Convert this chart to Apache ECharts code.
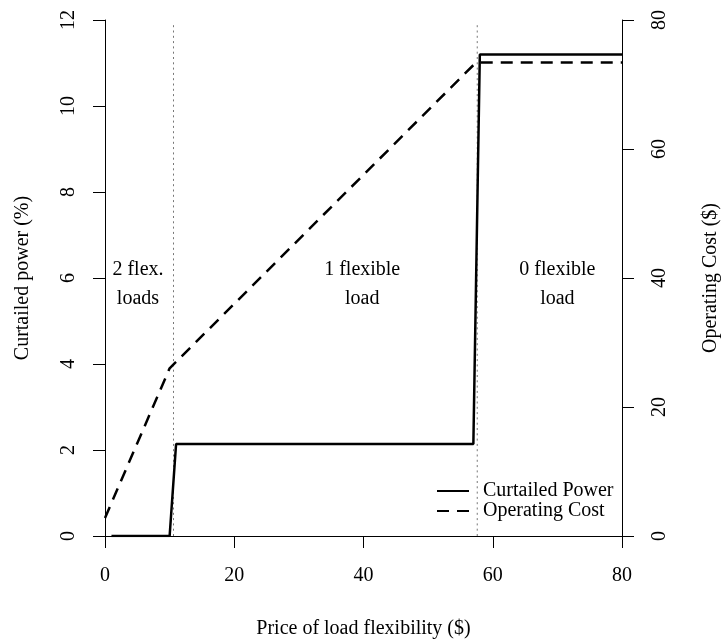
<!DOCTYPE html>
<html>
<head>
<meta charset="utf-8">
<script src="https://cdn.jsdelivr.net/npm/echarts@6/dist/echarts.min.js"></script>
<style>
  html, body { margin: 0; padding: 0; background: #fff; overflow: hidden; }
  #chart { width: 722px; height: 639px; display: block; }
</style>
</head>
<body>
<div id="chart"></div>
<script>
// Curtailed power (%) against price of load flexibility ($)
const curtailedPower = [[1, 0], [10, 0], [11, 2.14], [57, 2.14], [58, 11.2], [80, 11.2]];
// Operating cost ($) against price of load flexibility ($)
const operatingCost = [[0, 2.8], [10, 26], [57, 73], [58, 73.4], [80, 73.4]];
// Prices where the number of flexible loads changes
const thresholds = [10.6, 57.6];
// Region notes: [price, curtailed power level, text]
const regionNotes = [
  [5.1, 5.85, '2 flex.\nloads'],
  [39.8, 5.85, '1 flexible\nload'],
  [70.0, 5.85, '0 flexible\nload']
];
const xTicks = [0, 20, 40, 60, 80];

const FONT = '"Liberation Serif", "Times New Roman", Times, serif';
const black = '#000';

const dividerSeries = thresholds.map(function (p) {
  return {
    type: 'line',
    yAxisIndex: 0,
    data: [[p, 0], [p, 11.93]],
    symbol: 'none',
    silent: true,
    lineStyle: { color: '#777', width: 1, type: [2, 3.3] },
    z: 1
  };
});

const chart = echarts.init(document.getElementById('chart'), null, { renderer: 'canvas' });
chart.setOption({
  animation: false,
  backgroundColor: '#fff',
  textStyle: { fontFamily: FONT, color: black },
  grid: { left: 105, right: 100, top: 20, bottom: 103, containLabel: false, outerBoundsMode: 'none' },
  legend: {
    left: 436,
    top: 481,
    padding: 0,
    orient: 'vertical',
    itemWidth: 32,
    itemHeight: 14,
    itemGap: 0,
    itemStyle: { opacity: 0 },
    data: ['Curtailed Power', 'Operating Cost'],
    textStyle: { fontFamily: FONT, fontSize: 20, color: black, lineHeight: 20, padding: [0, 0, 0, 9] }
  },
  xAxis: {
    type: 'value',
    min: 0, max: 80, interval: 20,
    name: 'Price of load flexibility ($)',
    nameLocation: 'middle',
    nameGap: 83,
    nameTextStyle: { fontFamily: FONT, fontSize: 20, color: black },
    axisLine: { show: true, onZero: false, lineStyle: { color: black, width: 1 } },
    axisTick: { show: true, length: 12, lineStyle: { color: black, width: 1 } },
    axisLabel: {
      fontFamily: FONT, fontSize: 20, color: black, margin: 30,
      formatter: function (v) { return xTicks.indexOf(v) >= 0 ? String(v) : ''; }
    },
    splitLine: { show: false }
  },
  yAxis: [
    {
      type: 'value',
      position: 'left',
      min: 0, max: 12, interval: 2,
      name: 'Curtailed power (%)',
      nameLocation: 'middle',
      nameRotate: 90,
      nameGap: 72,
      nameTextStyle: { fontFamily: FONT, fontSize: 20, color: black },
      axisLine: { show: true, onZero: false, lineStyle: { color: black, width: 1 } },
      axisTick: { show: true, length: 12, lineStyle: { color: black, width: 1 } },
      axisLabel: { fontFamily: FONT, fontSize: 20, color: black, rotate: 90, margin: 26 },
      splitLine: { show: false }
    },
    {
      type: 'value',
      position: 'right',
      min: 0, max: 80, interval: 20,
      name: 'Operating Cost ($)',
      nameLocation: 'middle',
      nameRotate: 90,
      nameGap: 79,
      nameTextStyle: { fontFamily: FONT, fontSize: 20, color: black },
      axisLine: { show: true, onZero: false, lineStyle: { color: black, width: 1 } },
      axisTick: { show: true, length: 12, lineStyle: { color: black, width: 1 } },
      axisLabel: { fontFamily: FONT, fontSize: 20, color: black, rotate: 90, margin: 28 },
      splitLine: { show: false }
    }
  ],
  series: dividerSeries.concat([
    {
      name: 'Curtailed Power',
      type: 'line',
      yAxisIndex: 0,
      data: curtailedPower,
      symbol: 'none',
      lineStyle: { color: black, width: 2.5, type: 'solid' },
      itemStyle: { color: black },
      z: 3
    },
    {
      name: 'Operating Cost',
      type: 'line',
      yAxisIndex: 1,
      data: operatingCost,
      symbol: 'none',
      lineStyle: { color: black, width: 2.5, type: [12, 8] },
      itemStyle: { color: black },
      z: 3
    },
    {
      type: 'scatter',
      yAxisIndex: 0,
      data: regionNotes.map(function (n) { return { value: [n[0], n[1]], note: n[2] }; }),
      symbolSize: 0,
      silent: true,
      itemStyle: { opacity: 1, color: black },
      label: {
        show: true,
        position: 'inside',
        fontFamily: FONT,
        fontSize: 20,
        lineHeight: 29,
        color: black,
        opacity: 1,
        align: 'center',
        formatter: function (p) { return p.data.note; }
      },
      z: 4
    }
  ])
});
</script>
</body>
</html>
